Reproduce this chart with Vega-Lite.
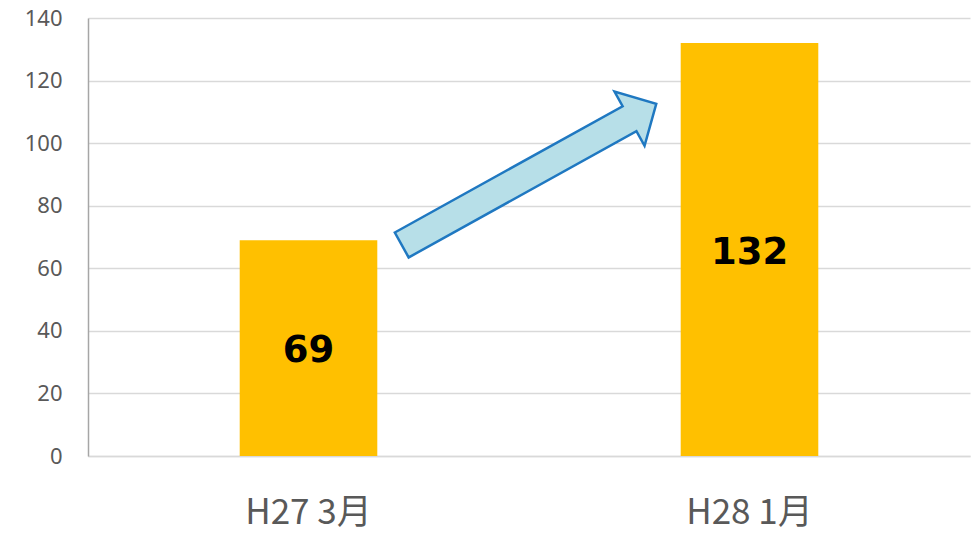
{
  "$schema": "https://vega.github.io/schema/vega-lite/v6.json",
  "autosize": {"type": "none"},
  "width": 882,
  "height": 438,
  "padding": {"left": 88, "top": 18, "right": 10, "bottom": 77},
  "background": "white",
  "config": {"view": {"stroke": null}},
  "data": {"values": [
    {"period": "H27 3月", "value": 69},
    {"period": "H28 1月", "value": 132}
  ]},
  "layer": [
    {
      "mark": {"type": "bar", "color": "#FFC000"},
      "encoding": {
        "x": {
          "field": "period", "type": "nominal", "sort": null,
          "scale": {"paddingInner": 0.688, "paddingOuter": 0.344},
          "axis": {
            "title": null, "ticks": false, "labelAngle": 0,
            "labelFont": "Noto Sans CJK JP", "labelFontSize": 35, "labelColor": "#595959",
            "labelPadding": 39, "domainColor": "#d9d9d9", "domainWidth": 1.5
          }
        },
        "y": {
          "field": "value", "type": "quantitative",
          "scale": {"domain": [0, 140], "nice": false},
          "axis": {
            "title": null, "ticks": false, "values": [0, 20, 40, 60, 80, 100, 120, 140],
            "labelFont": "Noto Sans", "labelFontSize": 22, "labelColor": "#595959",
            "labelPadding": 26, "domainColor": "#a6a6a6", "domainWidth": 1.5,
            "gridColor": "#d9d9d9", "gridWidth": 1.5
          }
        }
      }
    },
    {
      "mark": {"type": "text", "font": "DejaVu Sans", "fontWeight": "bold", "fontSize": 37, "color": "black", "baseline": "middle", "align": "center", "dy": 3},
      "encoding": {
        "x": {"field": "period", "type": "nominal", "sort": null, "scale": {"type": "band", "paddingInner": 0.688, "paddingOuter": 0.344}, "axis": null},
        "y": {"field": "value", "type": "quantitative", "scale": {"domain": [0, 280], "nice": false}, "axis": null},
        "text": {"field": "value", "type": "quantitative"}
      }
    },
    {
      "data": {"values": [{"from": "H27 3月", "to": "H28 1月"}]},
      "mark": {
        "type": "point", "filled": true, "opacity": 1,
        "shape": "M-1,-0.098L0.79,-0.098L0.79,-0.213L1,0L0.79,0.213L0.79,0.098L-1,0.098Z",
        "size": 84681, "angle": 331, "fill": "#B7DFE8", "stroke": "#1F78C1", "strokeWidth": 2.5
      },
      "encoding": {
        "x": {"datum": 1, "type": "quantitative", "scale": {"domain": [0, 2], "nice": false, "zero": false}, "axis": null},
        "y": {"datum": 90, "type": "quantitative", "scale": {"domain": [0, 140], "nice": false}, "axis": null}
      }
    }
  ],
  "resolve": {"scale": {"x": "independent", "y": "independent"}}
}
